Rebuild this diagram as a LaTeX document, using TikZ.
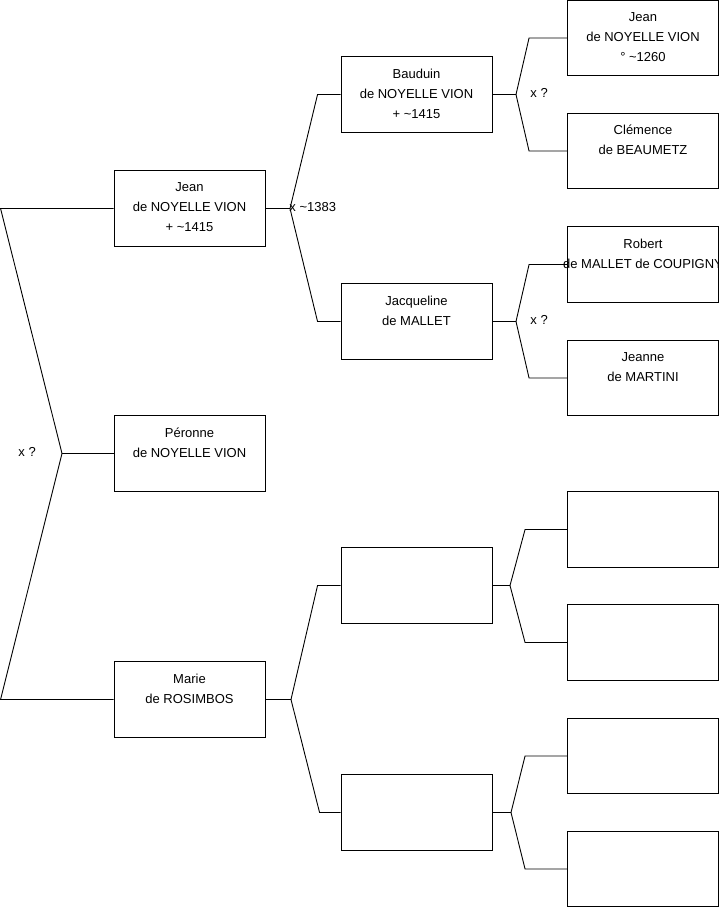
\documentclass[tikz,border=0pt]{standalone}
\usepackage{fontspec}
\setmainfont{Liberation Sans}
\usepackage{tikz}

\begin{document}
\begin{tikzpicture}[x=1pt, y=-1pt, line width=0.9pt,
    person/.style={draw, rectangle, minimum width=151pt, minimum height=75.5pt, inner sep=0pt},
    who/.style={anchor=north, align=center, inner sep=0pt, yshift=-12pt, font=\fontsize{13}{20}\selectfont},
    wed/.style={anchor=west, inner sep=0pt, font=\fontsize{13}{16}\selectfont}]
  \useasboundingbox (0,0) rectangle (719,908);

  % generation 1
  \node [person, label={[who]north:{Jean\\de NOYELLE VION\\+ \textasciitilde1415}}] (jean) at (189.5,208.5) {};
  \node [person, label={[who]north:{Péronne\\de NOYELLE VION}}] (peronne) at (189.5,453.5) {};
  \node [person, label={[who]north:{Marie\\de ROSIMBOS}}] (marie) at (189.5,699.5) {};

  % generation 2
  \node [person, label={[who]north:{Bauduin\\de NOYELLE VION\\+ \textasciitilde1415}}] (baud) at (416.5,94.5) {};
  \node [person, label={[who]north:{Jacqueline\\de MALLET}}] (jacq) at (416.5,321.5) {};
  \node [person] (ros1) at (416.5,585.5) {};
  \node [person] (ros2) at (416.5,812.5) {};

  % generation 3
  \node [person, label={[who]north:{Jean\\de NOYELLE VION\\° \textasciitilde1260}}] (jeanb) at (643,38) {};
  \node [person, label={[who]north:{Clémence\\de BEAUMETZ}}] (clem) at (643,151) {};
  \node [person, label={[who]north:{Robert\\de MALLET de COUPIGNY}}] (robert) at (643,264.5) {};
  \node [person, label={[who]north:{Jeanne\\de MARTINI}}] (jeanne) at (643,378) {};
  \node [person] (ros11) at (643,529.5) {};
  \node [person] (ros12) at (643,642.5) {};
  \node [person] (ros21) at (643,756) {};
  \node [person] (ros22) at (643,869) {};

  % forks
  \coordinate (f0) at (62,453.5);
  \coordinate (f1) at (290,208.5);
  \coordinate (f2) at (516,94.5);
  \coordinate (f3) at (516,321.5);
  \coordinate (f4) at (291,699.5);
  \coordinate (f5) at (510,585.5);
  \coordinate (f6) at (511,812.5);

  \draw (jean.west) -- ([xshift=-113]jean.west) -- (f0) -- ([xshift=-113]marie.west) -- (marie.west);
  \draw (f0) -- (peronne.west);

  \draw (jean.east) -- (f1);
  \draw (baud.west) -- ([xshift=-23]baud.west) -- (f1) -- ([xshift=-23]jacq.west) -- (jacq.west);
  \draw (marie.east) -- (f4);
  \draw (ros1.west) -- ([xshift=-23]ros1.west) -- (f4) -- ([xshift=-21]ros2.west) -- (ros2.west);

  \draw (baud.east) -- (f2);
  \draw (jeanb.west) -- ([xshift=-38]jeanb.west) -- (f2) -- ([xshift=-38]clem.west) -- (clem.west);
  \draw (jacq.east) -- (f3);
  \draw (robert.west) -- ([xshift=-38]robert.west) -- (f3) -- ([xshift=-38]jeanne.west) -- (jeanne.west);
  \draw (ros1.east) -- (f5);
  \draw (ros11.west) -- ([xshift=-42]ros11.west) -- (f5) -- ([xshift=-42]ros12.west) -- (ros12.west);
  \draw (ros2.east) -- (f6);
  \draw (ros21.west) -- ([xshift=-42]ros21.west) -- (f6) -- ([xshift=-42]ros22.west) -- (ros22.west);

  % unions
  \node [wed] (u0) at (18,452) {x ?};
  \node [wed] (u1) at (289,207) {x \textasciitilde1383};
  \node [wed] (u2) at (530,93) {x ?};
  \node [wed] (u3) at (530,320) {x ?};
\end{tikzpicture}
\end{document}
